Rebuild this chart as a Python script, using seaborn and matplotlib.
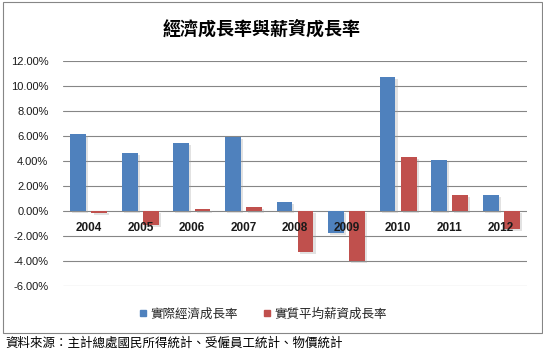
import matplotlib
matplotlib.use('Agg')
import matplotlib.pyplot as plt
import seaborn as sns
import pandas as pd
from matplotlib import patheffects as pe
from matplotlib.lines import Line2D
from matplotlib.patches import Rectangle

# ---- data ----
years = ['2004', '2005', '2006', '2007', '2008', '2009', '2010', '2011', '2012']
gdp_growth = [6.16, 4.64, 5.46, 5.94, 0.74, -1.75, 10.74, 4.08, 1.28]
wage_growth = [-0.12, -1.12, 0.18, 0.35, -3.30, -3.98, 4.34, 1.28, -1.47]
series_names = ['實際經濟成長率', '實質平均薪資成長率']
series_colors = ['#4F81BD', '#C0504D']
y_ticks = [-6, -4, -2, 0, 2, 4, 6, 8, 10, 12]
title = '經濟成長率與薪資成長率'
source = '資料來源：主計總處國民所得統計、受僱員工統計、物價統計'

df = pd.DataFrame({
    'year': years * 2,
    'value': gdp_growth + wage_growth,
    'series': [series_names[0]] * len(years) + [series_names[1]] * len(years),
})

sns.set_theme(style='white')
plt.rcParams['font.family'] = ['Liberation Sans', 'Noto Sans CJK TC']

W, H = 543, 353
fig = plt.figure(figsize=(W / 100, H / 100), dpi=100)
fig.patch.set_facecolor('white')
ax = fig.add_axes([63 / W, 1 - 286 / H, (527 - 63) / W, (286 - 61) / H])

sns.barplot(data=df, x='year', y='value', hue='series', palette=series_colors,
            width=0.82, gap=0.25, saturation=1, errorbar=None, legend=False, ax=ax)

for bar in ax.patches:
    bar.set_linewidth(0)
    bar.set_zorder(3)
    bar.set_path_effects([pe.SimplePatchShadow(offset=(1.5, -1.5), shadow_rgbFace='#a0a0a0', alpha=0.3),
                          pe.Normal()])

ax.set_xlim(-0.5, len(years) - 0.5)
ax.set_ylim(y_ticks[0], y_ticks[-1])
ax.set_yticks(y_ticks)
ax.set_yticklabels([f'{v:.2f}%' for v in y_ticks], fontsize=8, color='#1a1a1a')
ax.tick_params(axis='y', length=0, pad=10.5)
ax.set_xticks([])
ax.set_xlabel('')
ax.set_ylabel('')
ax.yaxis.grid(True, color='#868686', linewidth=0.8)
ax.set_axisbelow(True)
for s in ax.spines.values():
    s.set_visible(False)

for i, y in enumerate(years):
    ax.annotate(y, xy=(i, 0), xytext=(0, -17), textcoords='offset pixels',
                ha='center', va='center', fontsize=8.5, fontweight='bold',
                color='#1a1a1a', zorder=6)

# title
fig.text(262 / W, 1 - 29 / H, title, ha='center', va='center', fontsize=13,
         fontweight='bold', family=['Noto Sans CJK TC'], color='#000000')

# legend
handles = [Line2D([], [], marker='s', linestyle='none', markersize=5,
                  markerfacecolor=c, markeredgecolor=c) for c in series_colors]
fig.legend(handles, series_names, loc='center', bbox_to_anchor=(263 / W, 1 - 314 / H),
           ncol=2, frameon=False, handlelength=0.6, handletextpad=0.3,
           columnspacing=2.0, prop={'family': ['Noto Sans CJK TC'], 'size': 9})

# chart border
fig.add_artist(Rectangle((2.5 / W, 1 - 333 / H), (542 - 2.5) / W, (333 - 2) / H,
                         transform=fig.transFigure, fill=False, ec='#868686', lw=0.8))

# source note
fig.text(5 / W, 1 - 343 / H, source, ha='left', va='center', fontsize=9,
         family=['Noto Sans CJK TC'], color='#000000')

fig.savefig('out.png', dpi=100, facecolor='white')
